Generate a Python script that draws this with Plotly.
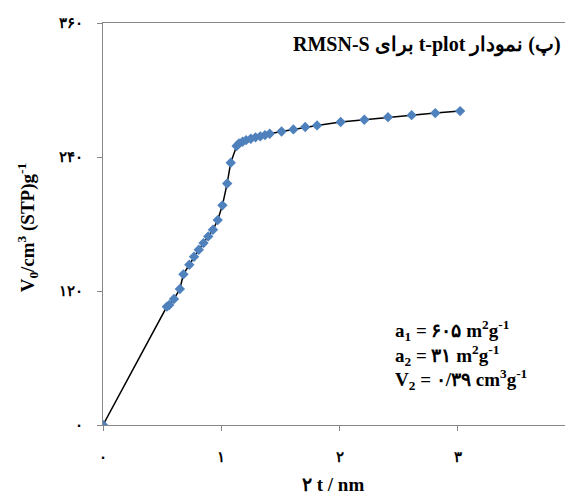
import plotly.graph_objects as go

# t-plot data (2t in nm, adsorbed volume cm3(STP)/g)
t_values = [0.0, 0.54, 0.56, 0.60, 0.65, 0.68, 0.73, 0.77, 0.81, 0.85, 0.89,
            0.93, 0.97, 1.01, 1.05, 1.08, 1.13, 1.15, 1.18, 1.21, 1.25, 1.29,
            1.33, 1.37, 1.41, 1.51, 1.61, 1.71, 1.81, 2.01, 2.21, 2.41, 2.61,
            2.81, 3.02]
v_values = [0.0, 106, 107.5, 112.8, 121.8, 134.9, 143.5, 150.7, 157.0, 162.9,
            168.9, 174.8, 183.5, 196.7, 216.3, 234.8, 249.8, 252.2, 253.6,
            255.1, 256.3, 257.6, 258.5, 259.6, 260.8, 262.9, 264.7, 266.8,
            268.3, 271.3, 273.3, 275.7, 277.5, 279.3, 281.1]

x_tick_vals = [0, 1, 2, 3, 4]
x_tick_text = ["۰", "۱", "۲", "۳", "۴"]
y_tick_vals = [0, 120, 240, 360]
y_tick_text = ["۰", "۱۲۰", "۲۴۰", "۳۶۰"]

title_text = "\u202b(پ) نمودار t-plot برای RMSN-S\u202c"
stat_lines = [
    "a<sub>1</sub> = ۶۰۵ m<sup>2</sup>g<sup>-1</sup>",
    "a<sub>2</sub> = ۳۱ m<sup>2</sup>g<sup>-1</sup>",
    "V<sub>2</sub> = ۰/۳۹ cm<sup>3</sup>g<sup>-1</sup>",
]
x_title = "۲ t / nm"
y_title = "V<sub>0</sub>/cm<sup>3</sup> (STP)g<sup>-1</sup>"

FONT = "Liberation Serif, Times New Roman, serif"
AXIS_COLOR = "#868686"

fig = go.Figure()
fig.add_trace(go.Scatter(
    x=t_values, y=v_values, mode="lines+markers",
    line=dict(color="black", width=1.5),
    marker=dict(symbol="diamond", size=8, color="#4F81BD"),
    showlegend=False,
))

fig.update_layout(
    width=580, height=487,
    margin=dict(l=95, r=12, t=15, b=70),
    paper_bgcolor="white", plot_bgcolor="white",
    font=dict(family=FONT, size=14, color="black"),
    xaxis=dict(
        range=[0, 4], tickvals=x_tick_vals, ticktext=x_tick_text,
        showgrid=False, zeroline=False, automargin=False,
        showline=True, linecolor=AXIS_COLOR, linewidth=1, mirror=True,
        ticks="outside", ticklen=5, tickcolor=AXIS_COLOR,
        tickfont=dict(family=FONT, size=15, color="black", weight="bold"),
        ticklabelstandoff=13,
    ),
    yaxis=dict(
        range=[0, 360], tickvals=y_tick_vals, ticktext=y_tick_text,
        showgrid=False, zeroline=False, automargin=False,
        showline=True, linecolor=AXIS_COLOR, linewidth=1, mirror=True,
        ticks="outside", ticklen=5, tickcolor=AXIS_COLOR,
        tickfont=dict(family=FONT, size=15, color="black", weight="bold"),
        ticklabelstandoff=11,
    ),
)

annotations = [
    dict(text="<b>" + title_text + "</b>", x=0.686, y=0.945, xref="paper",
         yref="paper", showarrow=False, xanchor="center", yanchor="middle",
         font=dict(family=FONT, size=20, color="black")),
    dict(text="<b>" + x_title + "</b>", x=0.486, y=-0.149, xref="paper",
         yref="paper", showarrow=False, xanchor="center", yanchor="middle",
         font=dict(family=FONT, size=19, color="black")),
    dict(text="<b>" + y_title + "</b>", x=-0.16, y=0.49, xref="paper",
         yref="paper", showarrow=False, xanchor="center", yanchor="middle",
         textangle=-90, font=dict(family=FONT, size=19, color="black")),
]
stat_y = [0.236, 0.174, 0.112]
for line, yy in zip(stat_lines, stat_y):
    annotations.append(dict(
        text="<b>" + line + "</b>", x=0.613, y=yy, xref="paper", yref="paper",
        showarrow=False, xanchor="left", yanchor="middle",
        font=dict(family=FONT, size=19, color="black")))
fig.update_layout(annotations=annotations)

fig.write_html("out.html")
